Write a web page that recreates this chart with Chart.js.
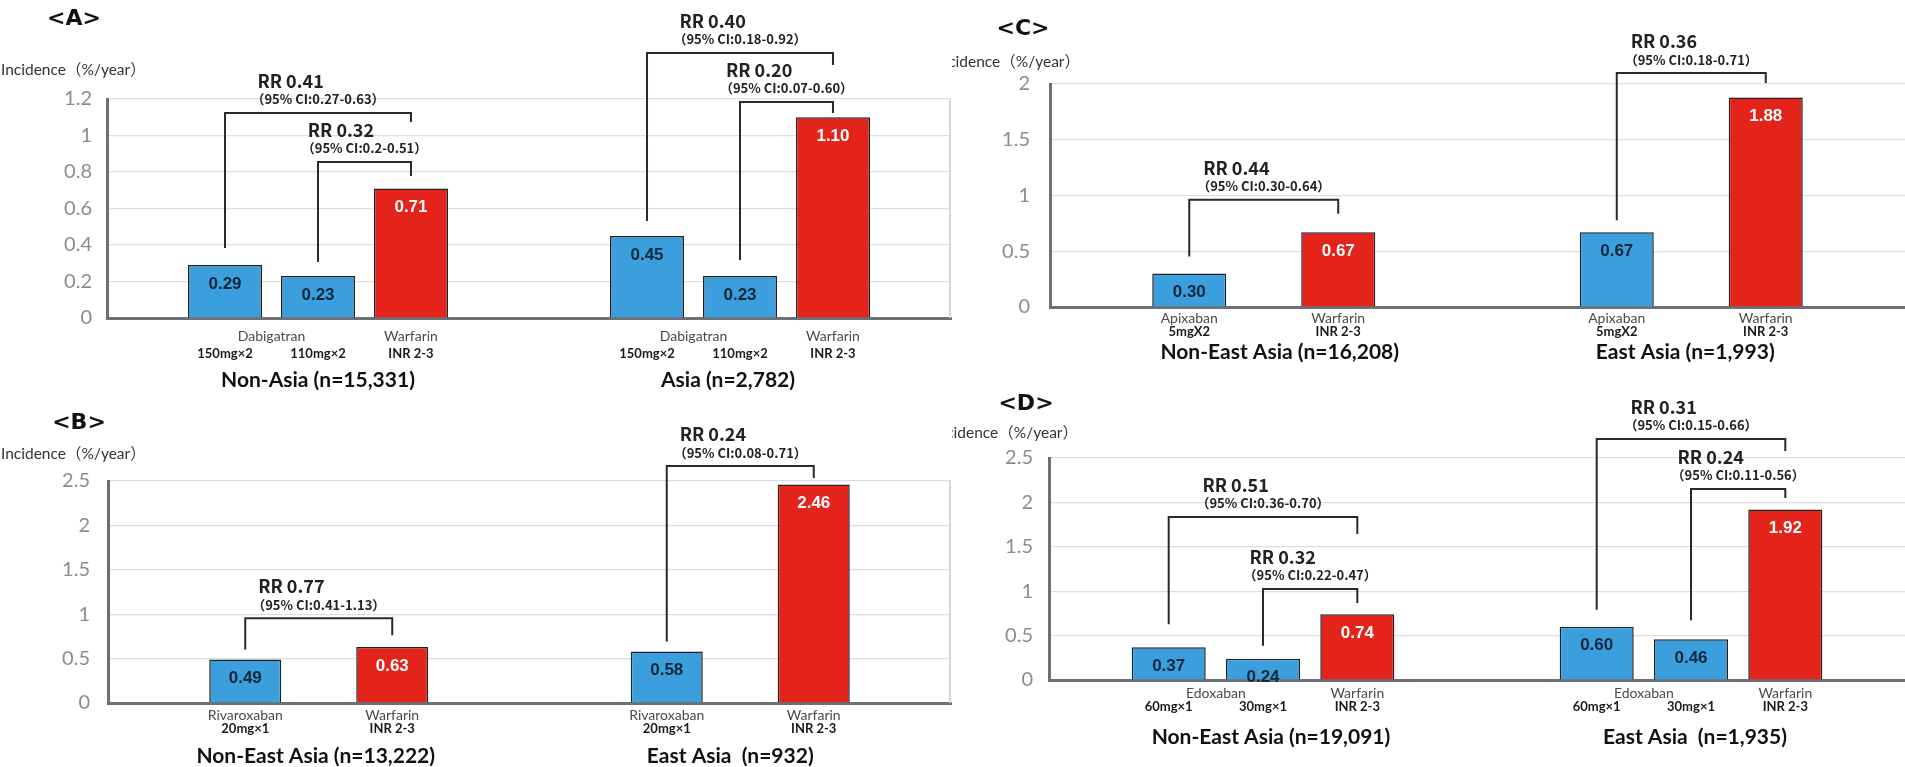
<!DOCTYPE html>
<html>
<head>
<meta charset="utf-8">
<script src="https://cdn.jsdelivr.net/npm/chart.js@4.4.1/dist/chart.umd.min.js"></script>
<style>
  html, body { margin: 0; padding: 0; background: #fff; }
  body { width: 1905px; height: 767px; position: relative; overflow: hidden; }
  .panel { position: absolute; background: #fff; }
  .panel canvas { display: block; }
  #boxA { left: 0; top: 0; width: 952px; height: 390px; z-index: 2; }
  #boxB { left: 0; top: 390px; width: 952px; height: 377px; z-index: 2; }
  #boxC { left: 940px; top: 0; width: 965px; height: 390px; z-index: 1; }
  #boxD { left: 940px; top: 390px; width: 965px; height: 377px; z-index: 1; }
</style>
</head>
<body>
<div class="panel" id="boxA"><canvas id="chartA"></canvas></div>
<div class="panel" id="boxB"><canvas id="chartB"></canvas></div>
<div class="panel" id="boxC"><canvas id="chartC"></canvas></div>
<div class="panel" id="boxD"><canvas id="chartD"></canvas></div>
<script>
// ---- <A> Dabigatran vs warfarin ----
const aGroups = ['Non-Asia (n=15,331)', 'Asia (n=2,782)'];
const aDabigatran150 = [0.29, 0.45];
const aDabigatran110 = [0.23, 0.23];
const aWarfarin = [0.71, 1.10];
const aTicks = [0, 0.2, 0.4, 0.6, 0.8, 1, 1.2];
const aNames = ['Dabigatran', 'Warfarin'];
const aDoses = ['150mg×2', '110mg×2', 'INR 2-3'];
const aRR = [0.41, 0.32, 0.40, 0.20];
const aCI = ['0.27-0.63', '0.2-0.51', '0.18-0.92', '0.07-0.60'];

// ---- <B> Rivaroxaban vs warfarin ----
const bGroups = ['Non-East Asia (n=13,222)', 'East Asia  (n=932)'];
const bRivaroxaban = [0.49, 0.58];
const bWarfarin = [0.63, 2.46];
const bTicks = [0, 0.5, 1, 1.5, 2, 2.5];
const bNames = ['Rivaroxaban', 'Warfarin'];
const bDoses = ['20mg×1', 'INR 2-3'];
const bRR = [0.77, 0.24];
const bCI = ['0.41-1.13', '0.08-0.71'];

// ---- <C> Apixaban vs warfarin ----
const cGroups = ['Non-East Asia (n=16,208)', 'East Asia (n=1,993)'];
const cApixaban = [0.30, 0.67];
const cWarfarin = [0.67, 1.88];
const cTicks = [0, 0.5, 1, 1.5, 2];
const cNames = ['Apixaban', 'Warfarin'];
const cDoses = ['5mgX2', 'INR 2-3'];
const cRR = [0.44, 0.36];
const cCI = ['0.30-0.64', '0.18-0.71'];

// ---- <D> Edoxaban vs warfarin ----
const dGroups = ['Non-East Asia (n=19,091)', 'East Asia  (n=1,935)'];
const dEdoxaban60 = [0.37, 0.60];
const dEdoxaban30 = [0.24, 0.46];
const dWarfarin = [0.74, 1.92];
const dTicks = [0, 0.5, 1, 1.5, 2, 2.5];
const dNames = ['Edoxaban', 'Warfarin'];
const dDoses = ['60mg×1', '30mg×1', 'INR 2-3'];
const dRR = [0.51, 0.32, 0.31, 0.24];
const dCI = ['0.36-0.70', '0.22-0.47', '0.15-0.66', '0.11-0.56'];

// ---- styling ----
const BLUE = '#3a9fdc';
const RED = '#e4231b';
const EDGE = '#222222';
const AXIS = '#6c7177';
const LINE = '#2a2a2a';
const RR_FONT = 'bold 18px "Noto Sans CJK JP", "Noto Sans", sans-serif';
const CI_FONT = 'bold 13px "Noto Sans CJK JP", "Noto Sans", sans-serif';

function makeDecor(p) {
  return {
    id: 'panelDecor',
    afterDraw(chart) {
      const ctx = chart.ctx;
      const area = chart.chartArea;
      const xs = chart.scales.x;
      const ys = chart.scales.y;
      ctx.save();

      if (p.rightBorder) {
        ctx.strokeStyle = '#d6d6d6';
        ctx.lineWidth = 2;
        ctx.beginPath();
        ctx.moveTo(area.right - 1, area.top);
        ctx.lineTo(area.right - 1, area.bottom);
        ctx.stroke();
      }

      // values printed inside the bars
      ctx.textAlign = 'center';
      ctx.textBaseline = 'middle';
      ctx.font = 'bold 17px "Liberation Sans", Arial, sans-serif';
      p.series.forEach((vals, si) => {
        chart.getDatasetMeta(si).data.forEach((bar, gi) => {
          ctx.fillStyle = p.colors[si] === RED ? '#ffffff' : '#13273b';
          ctx.fillText(vals[gi].toFixed(2), bar.x, bar.y + 19);
        });
      });

      // rate-ratio brackets
      p.brackets.forEach((br, k) => {
        const a = chart.getDatasetMeta(br.from).data[br.group];
        const b = chart.getDatasetMeta(br.to).data[br.group];
        const yl = ys.getPixelForValue(br.level);
        ctx.strokeStyle = LINE;
        ctx.lineWidth = 2;
        ctx.beginPath();
        ctx.moveTo(a.x, a.y - br.gap);
        ctx.lineTo(a.x, yl);
        ctx.lineTo(b.x, yl);
        ctx.lineTo(b.x, yl + br.tail);
        ctx.stroke();
        const ciText = '（95% CI:' + p.ci[k] + '）';
        ctx.font = CI_FONT;
        const w = ctx.measureText(ciText).width;
        const x0 = (a.x + b.x) / 2 - w / 2;
        ctx.fillStyle = '#222';
        ctx.textAlign = 'left';
        ctx.textBaseline = 'middle';
        ctx.fillText(ciText, x0, yl - 13.5);
        ctx.font = RR_FONT;
        ctx.fillText('RR ' + p.rr[k].toFixed(2), x0 + 6, yl - 32);
      });

      // drug names, doses and group titles under the axis
      ctx.textAlign = 'center';
      ctx.textBaseline = 'middle';
      p.groups.forEach((g, gi) => {
        p.nameSpans.forEach((span, ni) => {
          const px = span.map(si => chart.getDatasetMeta(si).data[gi].x);
          const cx = (Math.min(...px) + Math.max(...px)) / 2;
          ctx.font = '14px Lato, "Noto Sans", sans-serif';
          ctx.fillStyle = '#4a4a4a';
          ctx.fillText(p.names[ni], cx, p.rows[0]);
        });
        p.doses.forEach((d, si) => {
          ctx.font = 'bold 13px Lato, "Noto Sans", sans-serif';
          ctx.fillStyle = '#1a1a1a';
          ctx.fillText(d, chart.getDatasetMeta(si).data[gi].x, p.rows[1]);
        });
        ctx.font = 'bold 21px Lato, "Noto Sans", sans-serif';
        ctx.fillStyle = '#111';
        ctx.fillText(g, xs.getPixelForValue(gi) + p.titleShift[gi], p.rows[2]);
      });

      // axis title and panel letter
      ctx.font = '15.5px Lato, "Noto Sans CJK JP", sans-serif';
      ctx.fillStyle = '#333';
      ctx.textAlign = p.yTitle[2];
      ctx.fillText('Incidence（%/year）', p.yTitle[0], p.yTitle[1]);
      ctx.font = 'bold 22px "DejaVu Sans", sans-serif';
      ctx.fillStyle = '#111';
      ctx.textAlign = 'center';
      ctx.fillText(p.letter, p.letterPos[0], p.letterPos[1]);

      ctx.restore();
    }
  };
}

function makePanel(id, p) {
  const cv = document.getElementById(id);
  cv.width = p.w;
  cv.height = p.h;
  return new Chart(cv, {
    type: 'bar',
    data: {
      labels: p.groups,
      datasets: p.series.map((s, i) => ({
        label: p.doses[i],
        data: s,
        backgroundColor: p.colors[i],
        borderColor: EDGE,
        borderWidth: 1.5,
        borderSkipped: 'start',
        categoryPercentage: p.cp,
        barPercentage: p.bp
      }))
    },
    options: {
      responsive: false,
      animation: false,
      layout: { padding: { left: 0, top: p.area.t, right: p.w - p.area.r, bottom: p.h - p.area.b } },
      plugins: { legend: { display: false }, tooltip: { enabled: false } },
      scales: {
        x: {
          grid: { display: false },
          ticks: { display: false },
          border: { display: true, color: AXIS, width: 3 },
          afterFit: s => { s.height = 0; }
        },
        y: {
          min: p.ticks[0],
          max: p.ticks[p.ticks.length - 1],
          afterBuildTicks: s => { s.ticks = p.ticks.map(v => ({ value: v })); },
          ticks: {
            padding: p.tickPad,
            color: '#8c8c8c',
            font: { family: 'Lato', size: 20 },
            callback: v => String(v)
          },
          grid: { color: '#dedede', lineWidth: 1.2, drawTicks: false },
          border: { color: AXIS, width: 3 },
          afterFit: s => { s.width = p.area.l; }
        }
      }
    },
    plugins: [makeDecor(p)]
  });
}

makePanel('chartA', {
  w: 952, h: 390, area: { l: 107, t: 99, r: 951, b: 318 }, tickPad: 15,
  groups: aGroups, series: [aDabigatran150, aDabigatran110, aWarfarin],
  colors: [BLUE, BLUE, RED], ticks: aTicks, cp: 0.661, bp: 0.796,
  names: aNames, nameSpans: [[0, 1], [2]], doses: aDoses,
  rr: aRR, ci: aCI,
  brackets: [
    { group: 0, from: 0, to: 2, level: 1.123, gap: 17, tail: 9 },
    { group: 0, from: 1, to: 2, level: 0.855, gap: 14, tail: 14 },
    { group: 1, from: 0, to: 2, level: 1.452, gap: 15, tail: 12 },
    { group: 1, from: 1, to: 2, level: 1.184, gap: 16, tail: 11 }
  ],
  rows: [336, 354, 380], titleShift: [0, -12],
  yTitle: [1, 70, 'left'], letter: '<A>', letterPos: [74, 19], rightBorder: true
});

makePanel('chartB', {
  w: 952, h: 377, area: { l: 108, t: 91, r: 951, b: 313 }, tickPad: 18,
  groups: bGroups, series: [bRivaroxaban, bWarfarin],
  colors: [BLUE, RED], ticks: bTicks, cp: 0.6975, bp: 0.49,
  names: bNames, nameSpans: [[0], [1]], doses: bDoses,
  rr: bRR, ci: bCI,
  brackets: [
    { group: 0, from: 0, to: 1, level: 0.955, gap: 10, tail: 17 },
    { group: 1, from: 0, to: 1, level: 2.668, gap: 10, tail: 12 }
  ],
  rows: [325, 339, 366], titleShift: [-3, -10],
  yTitle: [1, 64, 'left'], letter: '<B>', letterPos: [79, 33], rightBorder: true
});

makePanel('chartC', {
  w: 965, h: 390, area: { l: 110, t: 84, r: 965, b: 307 }, tickPad: 20,
  groups: cGroups, series: [cApixaban, cWarfarin],
  colors: [BLUE, RED], ticks: cTicks, cp: 0.697, bp: 0.497,
  names: cNames, nameSpans: [[0], [1]], doses: cDoses,
  rr: cRR, ci: cCI,
  brackets: [
    { group: 0, from: 0, to: 1, level: 0.962, gap: 17, tail: 14 },
    { group: 1, from: 0, to: 1, level: 2.098, gap: 12, tail: 10 }
  ],
  rows: [318, 332, 352], titleShift: [16, -6],
  yTitle: [140, 62, 'right'], letter: '<C>', letterPos: [83, 29], rightBorder: false
});

makePanel('chartD', {
  w: 965, h: 377, area: { l: 109, t: 68, r: 965, b: 290 }, tickPad: 16,
  groups: dGroups, series: [dEdoxaban60, dEdoxaban30, dWarfarin],
  colors: [BLUE, BLUE, RED], ticks: dTicks, cp: 0.661, bp: 0.785,
  names: dNames, nameSpans: [[0, 1], [2]], doses: dDoses,
  rr: dRR, ci: dCI,
  brackets: [
    { group: 0, from: 0, to: 2, level: 1.836, gap: 23, tail: 17 },
    { group: 0, from: 1, to: 2, level: 1.025, gap: 13, tail: 14 },
    { group: 1, from: 0, to: 2, level: 2.714, gap: 17, tail: 12 },
    { group: 1, from: 1, to: 2, level: 2.151, gap: 19, tail: 9 }
  ],
  rows: [303, 317, 347], titleShift: [8, 4],
  yTitle: [138, 43, 'right'], letter: '<D>', letterPos: [86, 14], rightBorder: false
});
</script>
</body>
</html>
